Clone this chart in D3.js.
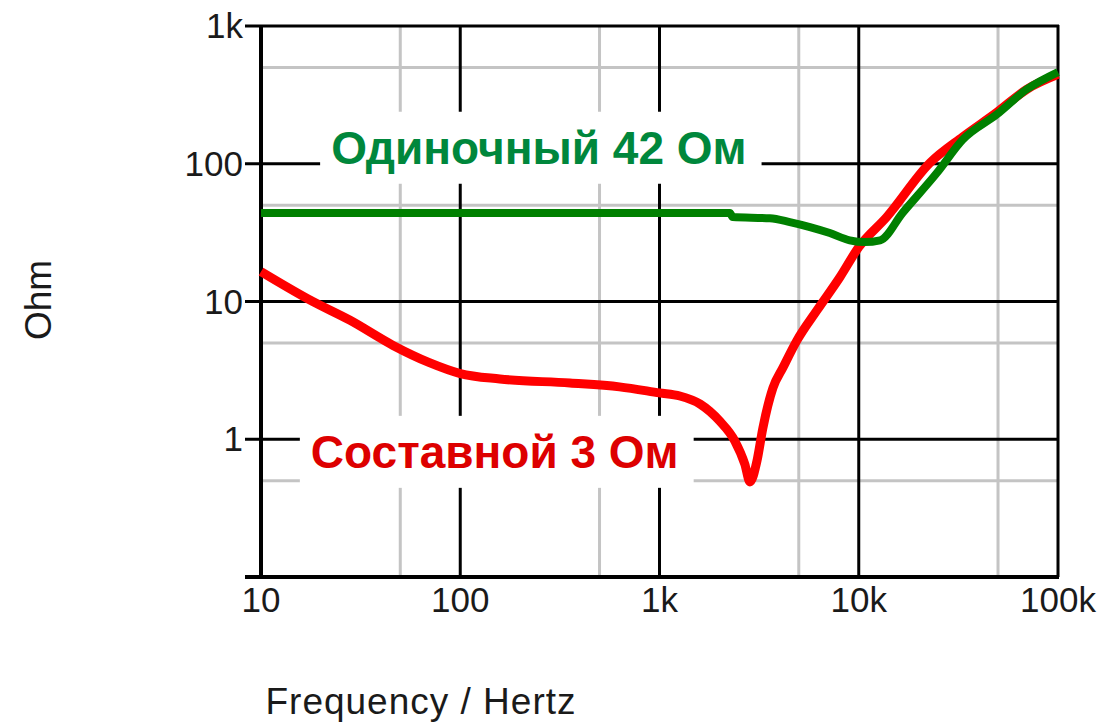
<!DOCTYPE html>
<html lang="ru">
<head>
<meta charset="utf-8">
<title>Impedance</title>
<style>
    body { margin: 0; background: #fff; }
    text { font-family: "Liberation Sans", Arial, sans-serif; }
    .tick-label { font-size: 35px; fill: #1a1a1a; }
    .title { font-size: 37px; fill: #1a1a1a; }
    .curve-label { font-size: 46px; font-weight: bold; }
</style>
<script src="https://d3js.org/d3.v7.min.js"></script>
</head>
<body>
<svg></svg>
<script>
    const width = 1103;
    const height = 724;

    // frequency (Hz) / impedance (Ohm)
    const redFreq = [10, 18.2, 28, 46, 70, 100, 158, 355, 630, 1000, 1265, 1600, 2010, 2390, 2680, 2845, 3080, 3300, 3710, 4160, 4890, 6160, 8040, 10000, 13800, 22700, 33300, 49300, 69700, 100000];
    const redOhm  = [16.5, 10, 7.3, 4.8, 3.6, 3.0, 2.74, 2.56, 2.4, 2.17, 2.06, 1.8, 1.35, 0.97, 0.66, 0.49, 0.69, 1.2, 2.36, 3.3, 5.2, 8.6, 15, 24.8, 41, 101, 157, 236, 347, 445];

    const greenFreq = [10, 2255, 2330, 3580, 4510, 5690, 7160, 9010, 10700, 12800, 16600, 24700, 33300, 49300, 69700, 100000];
    const greenOhm  = [43.9, 43.9, 41, 40.2, 37.7, 34.7, 31.4, 27.8, 27, 27.8, 44, 86, 150, 228, 347, 463];

    const xMajor = [10, 100, 1000, 10000, 100000];
    const xMinor = [50, 500, 5000, 50000];
    const xLabels = ['10', '100', '1k', '10k', '100k'];
    const yMajor = [0.1, 1, 10, 100, 1000];
    const yMinor = [0.5, 5, 50, 500];
    const yLabels = ['', '1', '10', '100', '1k'];

    const x = d3.scaleLog().domain([10, 100000]).range([261, 1058]);
    const y = d3.scaleLog().domain([0.1, 1000]).range([577, 26]);

    const svg = d3.select('svg').attr('width', width).attr('height', height);

    // grid
    const grid = svg.append('g');
    grid.selectAll('.vminor').data(xMinor).enter().append('line')
        .attr('x1', d => x(d)).attr('x2', d => x(d))
        .attr('y1', y(1000)).attr('y2', y(0.1))
        .attr('stroke', '#c4c4c4').attr('stroke-width', 3);
    grid.selectAll('.hminor').data(yMinor).enter().append('line')
        .attr('x1', x(10)).attr('x2', x(100000))
        .attr('y1', d => y(d)).attr('y2', d => y(d))
        .attr('stroke', '#c4c4c4').attr('stroke-width', 3);
    grid.selectAll('.vmajor').data(xMajor).enter().append('line')
        .attr('x1', d => x(d)).attr('x2', d => x(d))
        .attr('y1', y(1000) - 1).attr('y2', y(0.1))
        .attr('stroke', '#000').attr('stroke-width', 3);
    grid.selectAll('.hmajor').data(yMajor).enter().append('line')
        .attr('x1', 245).attr('x2', x(100000) + 1)
        .attr('y1', d => y(d)).attr('y2', d => y(d))
        .attr('stroke', '#000').attr('stroke-width', d => d === 0.1 ? 4 : 3);

    // left axis
    svg.append('line')
        .attr('x1', x(10)).attr('x2', x(10))
        .attr('y1', y(1000) - 1).attr('y2', y(0.1) + 2)
        .attr('stroke', '#000').attr('stroke-width', 4);

    // tick labels
    svg.selectAll('.ylab').data(yMajor).enter().append('text')
        .attr('class', 'tick-label')
        .attr('x', 243).attr('y', d => y(d) + 12)
        .attr('text-anchor', 'end')
        .text((d, i) => yLabels[i]);
    svg.selectAll('.xlab').data(xMajor).enter().append('text')
        .attr('class', 'tick-label')
        .attr('x', d => x(d)).attr('y', 612)
        .attr('text-anchor', 'middle')
        .text((d, i) => xLabels[i]);

    svg.append('text').attr('class', 'title')
        .attr('transform', 'translate(51,300) rotate(-90)')
        .attr('text-anchor', 'middle')
        .text('Ohm');
    svg.append('text').attr('class', 'title')
        .attr('x', 421).attr('y', 714)
        .attr('text-anchor', 'middle')
        .style('letter-spacing', '1px')
        .text('Frequency / Hertz');

    // curve labels with white boxes that hide the grid
    function addLabel(text, f, v, color) {
        const g = svg.append('g');
        const rect = g.append('rect').attr('fill', '#fff');
        const t = g.append('text').attr('class', 'curve-label')
            .attr('x', x(f)).attr('y', y(v))
            .attr('text-anchor', 'middle')
            .attr('fill', color)
            .text(text);
        const b = t.node().getBBox();
        rect.attr('x', b.x - 11).attr('y', b.y - 10)
            .attr('width', b.width + 26).attr('height', b.height + 20);
    }
    addLabel('Одиночный 42 Ом', 248, 100, '#00873c');
    addLabel('Составной 3 Ом', 149, 0.62, '#dd0000');

    const line = d3.line()
        .x(d => x(d[0]))
        .y(d => y(d[1]))
        .curve(d3.curveMonotoneX);

    svg.append('path')
        .datum(redFreq.map((f, i) => [f, redOhm[i]]))
        .attr('d', line)
        .attr('fill', 'none')
        .attr('stroke', '#ff0000')
        .attr('stroke-width', 9)
        .attr('stroke-linejoin', 'round');

    svg.append('path')
        .datum(greenFreq.map((f, i) => [f, greenOhm[i]]))
        .attr('d', line)
        .attr('fill', 'none')
        .attr('stroke', '#008000')
        .attr('stroke-width', 8)
        .attr('stroke-linejoin', 'round');
</script>
</body>
</html>
